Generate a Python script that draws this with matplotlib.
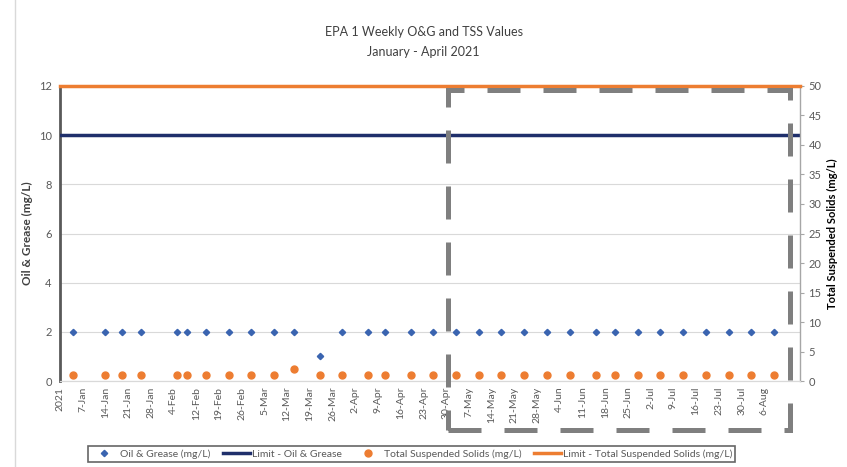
import matplotlib
matplotlib.use('Agg')
import matplotlib.pyplot as plt
from matplotlib.patches import Rectangle
from matplotlib.lines import Line2D

plt.rcParams['font.family'] = ['Lato', 'DejaVu Sans']

# days counted from 31-Dec-2020 (axis origin labelled "2021")
sample_days = [4, 14, 19, 25, 36, 39, 45, 52, 59, 66, 72, 80, 87, 95, 100, 108, 115,
               122, 129, 136, 143, 150, 157, 165, 171, 178, 185, 192, 199, 206, 213, 220]
oil_grease = [2, 2, 2, 2, 2, 2, 2, 2, 2, 2, 2, 1, 2, 2, 2, 2, 2,
              2, 2, 2, 2, 2, 2, 2, 2, 2, 2, 2, 2, 2, 2, 2]
tss = [1, 1, 1, 1, 1, 1, 1, 1, 1, 1, 2, 1, 1, 1, 1, 1, 1,
       1, 1, 1, 1, 1, 1, 1, 1, 1, 1, 1, 1, 1, 1, 1]
og_limit = 10
tss_limit = 50

tick_days = list(range(0, 218, 7))
tick_labels = ['2021', '7-Jan', '14-Jan', '21-Jan', '28-Jan', '4-Feb', '12-Feb', '19-Feb',
               '26-Feb', '5-Mar', '12-Mar', '19-Mar', '26-Mar', '2-Apr', '9-Apr', '16-Apr',
               '23-Apr', '30-Apr', '7-May', '14-May', '21-May', '28-May', '4-Jun', '11-Jun',
               '18-Jun', '25-Jun', '2-Jul', '9-Jul', '16-Jul', '23-Jul', '30-Jul', '6-Aug']
x_max = 228

fig = plt.figure(figsize=(8.47, 4.67), dpi=100)
ax = fig.add_axes([0.0708, 0.184, 0.8737, 0.632])
ax2 = ax.twinx()

navy = '#1f2f6b'
blue = '#3a64b0'
orange = '#ed7d31'
grey_txt = '#595959'

ax.set_xlim(0, x_max)
ax.set_ylim(0, 12)
ax.set_yticks(range(0, 13, 2))
ax2.set_ylim(0, 50)
ax2.set_yticks(range(0, 51, 5))

ax.grid(axis='y', color='#d9d9d9', linewidth=0.8)
ax.set_axisbelow(True)

ax.plot(sample_days, oil_grease, linestyle='none', marker='D', markersize=3.2,
        color=blue, label='Oil & Grease (mg/L)', zorder=3)
ax.axhline(og_limit, color=navy, linewidth=2.5, label='Limit - Oil & Grease', zorder=3)
ax2.plot(sample_days, tss, linestyle='none', marker='o', markersize=5,
         color=orange, label='Total Suspended Solids (mg/L)', zorder=3)
ax2.axhline(tss_limit, color=orange, linewidth=2.5,
            label='Limit - Total Suspended Solids (mg/L)', zorder=3, clip_on=False)

ax.set_xticks(tick_days)
ax.set_xticklabels(tick_labels, rotation=90, fontsize=7.5, color=grey_txt)
ax.tick_params(axis='x', length=0, pad=4)
ax.tick_params(axis='y', length=0, labelsize=8, labelcolor=grey_txt, pad=6)
ax2.tick_params(axis='y', length=3, color='#a6a6a6', labelsize=8, labelcolor=grey_txt, pad=3)

ax.set_ylabel('Oil & Grease (mg/L)', fontsize=8.5, fontweight='bold', color='#404040')
ax2.set_ylabel('Total Suspended Solids (mg/L)', fontsize=8, fontweight='bold', color='black')

for a in (ax, ax2):
    a.spines['top'].set_visible(False)
    a.spines['left'].set_visible(False)
    a.spines['right'].set_visible(False)
    a.spines['bottom'].set_color('#d9d9d9')
ax.spines['left'].set_visible(True)
ax.spines['left'].set_color('#595959')
ax.spines['left'].set_linewidth(2)
ax2.spines['right'].set_visible(True)
ax2.spines['right'].set_color('#a6a6a6')
ax2.spines['right'].set_linewidth(1)

fig.text(0.5, 0.922, 'EPA 1 Weekly O&G and TSS Values', ha='center', fontsize=9, color='#404040')
fig.text(0.5, 0.880, 'January - April 2021', ha='center', fontsize=9, color='#404040')

# dashed highlight box
box = Rectangle((448 / 847, 1 - 430 / 467), (790 - 448) / 847, (430 - 90) / 467,
                transform=fig.transFigure, fill=False, edgecolor='#7f7f7f',
                linewidth=3.6, linestyle=(0, (6.6, 4.6)), zorder=10)
fig.patches.append(box)

# left border line of the chart area
fig.add_artist(Line2D([15 / 847, 15 / 847], [0, 1], color='#d9d9d9', linewidth=1))

handles = [ax.get_lines()[0], ax.get_lines()[1], ax2.get_lines()[0], ax2.get_lines()[1]]
leg = fig.legend(handles=handles, loc='lower center', bbox_to_anchor=(0.486, 0.0), ncol=4,
                 fontsize=7.5, frameon=True, fancybox=False, edgecolor='#404040',
                 handlelength=2.6, columnspacing=1.2, borderpad=0.3, handletextpad=0.2)
for t in leg.get_texts():
    t.set_color(grey_txt)
leg.get_frame().set_linewidth(1.2)

fig.savefig('out.png', dpi=100)
